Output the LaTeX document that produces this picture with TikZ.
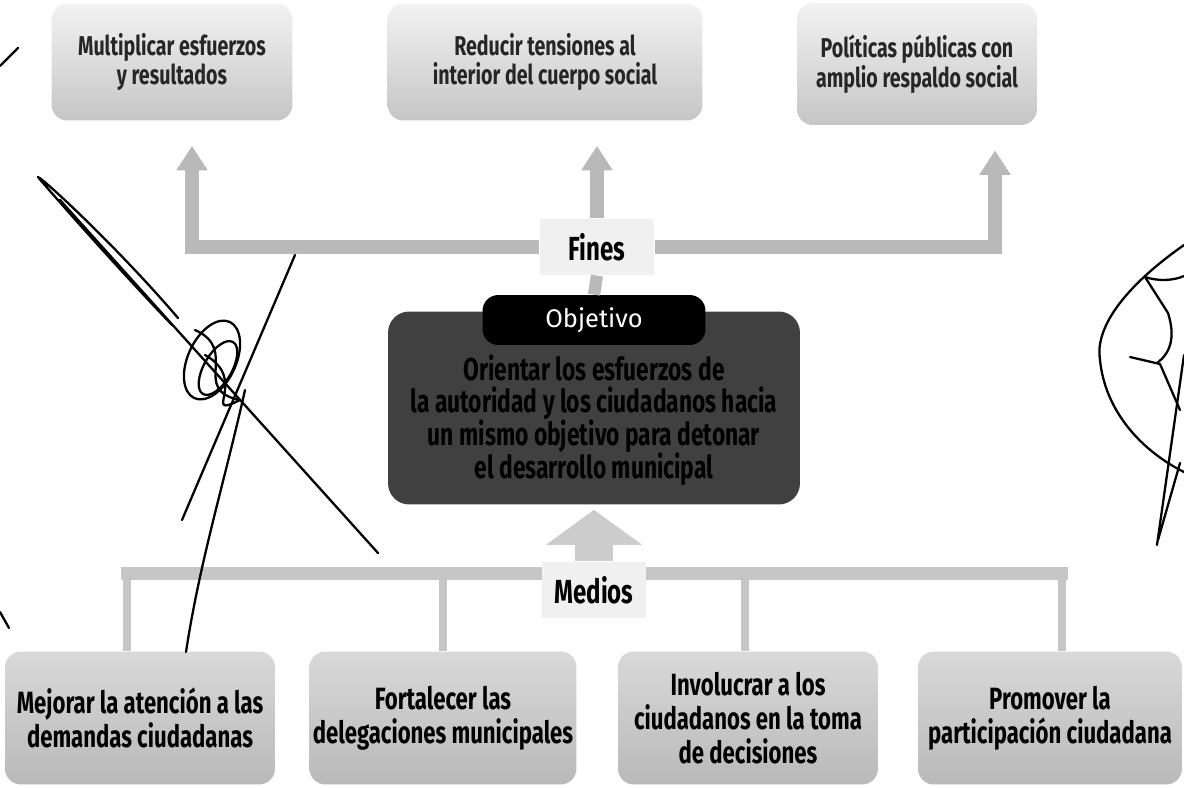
\documentclass[tikz,border=0pt]{standalone}
\usepackage{fontspec}
\newfontfamily\condsans{Fira Sans}[FakeStretch=0.72]
\newfontfamily\plainsans{Fira Sans}
\usetikzlibrary{positioning, calc, arrows.meta}

\begin{document}
\begin{tikzpicture}[x=0.02cm, y=-0.02cm,
    finbox/.style={rounded corners=9pt, top color=gray!10, bottom color=gray!45,
        minimum height=2.34cm, align=center, text=black!85,
        font=\condsans\bfseries\fontsize{15.5}{17}\selectfont},
    medbox/.style={rounded corners=9pt, top color=gray!30, bottom color=gray!55,
        minimum height=2.66cm, align=center, text=black, inner xsep=0pt,
        font=\condsans\bfseries\fontsize{17.5}{19.5}\selectfont},
    tag/.style={fill=gray!12, minimum height=1.13cm, text=black,
        font=\condsans\bfseries\fontsize{19}{20}\selectfont},
    fatarrow/.style={draw=gray!55, line width=7.5pt, -{Triangle[width=17pt,length=14pt]}},
    barlink/.style={draw=gray!45, line width=7.4pt},
    droplink/.style={draw=gray!45, line width=4.5pt},
    scribble/.style={black, line width=1.3pt, line cap=round, line join=round}]
    \useasboundingbox (0,0) rectangle (1184,788);

    % Fines
    \node[finbox, minimum width=4.82cm] (fin1) at (172,62) {Multiplicar esfuerzos\\y resultados};
    \node[finbox, minimum width=6.3cm] (fin2) at (545,62) {Reducir tensiones al\\interior del cuerpo social};
    \node[finbox, minimum width=4.8cm, minimum height=2.44cm] (fin3) at (917,64) {Políticas públicas con\\amplio respaldo social};
    \node[tag, minimum width=2.3cm] (fines) at (597,247) {Fines};

    \draw[fatarrow, shorten >=0.5cm] (fines.west) -| ($(fin1.south)+(20,0)$);
    \draw[fatarrow, shorten >=0.5cm] (fines.north) -- (fines.north |- fin2.south);
    \draw[fatarrow, shorten >=0.5cm] (fines.east) -| ($(fin3.south)+(78,0)$);

    % Objetivo
    \node[rounded corners=12pt, fill=black!75, minimum width=8.24cm, minimum height=3.86cm,
        align=center, text=black, font=\condsans\bfseries\fontsize{18}{18.7}\selectfont]
        (obj) at (594,408) {};
    \node[align=center, text=black, font=\condsans\bfseries\fontsize{18}{18.7}\selectfont]
        (objtext) at (594,420) {Orientar los esfuerzos de\\la autoridad y los ciudadanos hacia\\un mismo objetivo para detonar\\el desarrollo municipal};
    \node[rounded corners=9pt, fill=black, minimum width=4.46cm, minimum height=1cm,
        text=white, font=\plainsans\fontsize{14.5}{16}\selectfont] (objtag) at (594,320) {Objetivo};
    \draw[draw=gray!55, line width=7pt] (objtag.north) -- (fines.south);

    % Medios
    \coordinate (b1) at (127,573);
    \coordinate (b2) at (443,573);
    \coordinate (b3) at (745,573);
    \coordinate (b4) at (1062,573);
    \node[medbox, minimum width=5.4cm] (m1) at (140,718) {Mejorar la atención a las\\demandas ciudadanas};
    \node[medbox, minimum width=5.34cm] (m2) at (443,718) {Fortalecer las\\delegaciones municipales};
    \node[medbox, minimum width=5.2cm] (m3) at (748,718) {Involucrar a los\\ciudadanos en la toma\\de decisiones};
    \node[medbox, minimum width=5.28cm] (m4) at (1050,718) {Promover la\\participación ciudadana};

    \draw[barlink] ($(b1)+(-6,0)$) -- ($(b4)+(6,0)$);
    \foreach \b/\m in {b1/m1, b2/m2, b3/m3, b4/m4}
        \draw[droplink] (\b) -- (\b |- \m.north);
    \node[tag, minimum width=2.08cm] (medios) at (594,590) {Medios};
    \draw[draw=gray!40, line width=22pt, -{Triangle[width=54pt,length=20pt]}, shorten >=0.1cm]
        (medios.north) -- (obj.south);

    % trazos a mano
    \draw[scribble] (0,66) -- (18,48);
    \draw[scribble] (0,612) -- (9,628);
    \draw[scribble] (172,325) .. controls (110,260) and (40,180) .. (38,177)
        .. controls (45,180) and (120,250) .. (178,318);
    \draw[scribble] (60,200) -- (378,553);
    \draw[scribble] (295,255) -- (182,520);
    \draw[scribble] (245,390) .. controls (225,480) and (200,560) .. (186,652);
    \draw[scribble, rotate around={-25:(212,360)}] (212,360) ellipse (24 and 42);
    \draw[scribble, rotate around={-30:(218,368)}] (218,368) ellipse (14 and 30);
    \draw[scribble] (195,330) .. controls (240,350) and (190,390) .. (240,400)
        .. controls (200,420) and (250,380) .. (205,355);
    \draw[scribble] (1184,245) .. controls (1120,290) and (1095,330) .. (1100,360)
        .. controls (1105,410) and (1140,450) .. (1184,472);
    \draw[scribble] (1145,277) .. controls (1160,282) and (1175,280) .. (1184,276);
    \draw[scribble] (1145,277) -- (1168,313) .. controls (1175,335) and (1172,352) .. (1157,363);
    \draw[scribble] (1130,357) -- (1160,364) -- (1180,410);
    \draw[scribble] (1184,355) -- (1157,545);
    \draw[scribble] (1180,463) -- (1158,540);
\end{tikzpicture}
\end{document}
